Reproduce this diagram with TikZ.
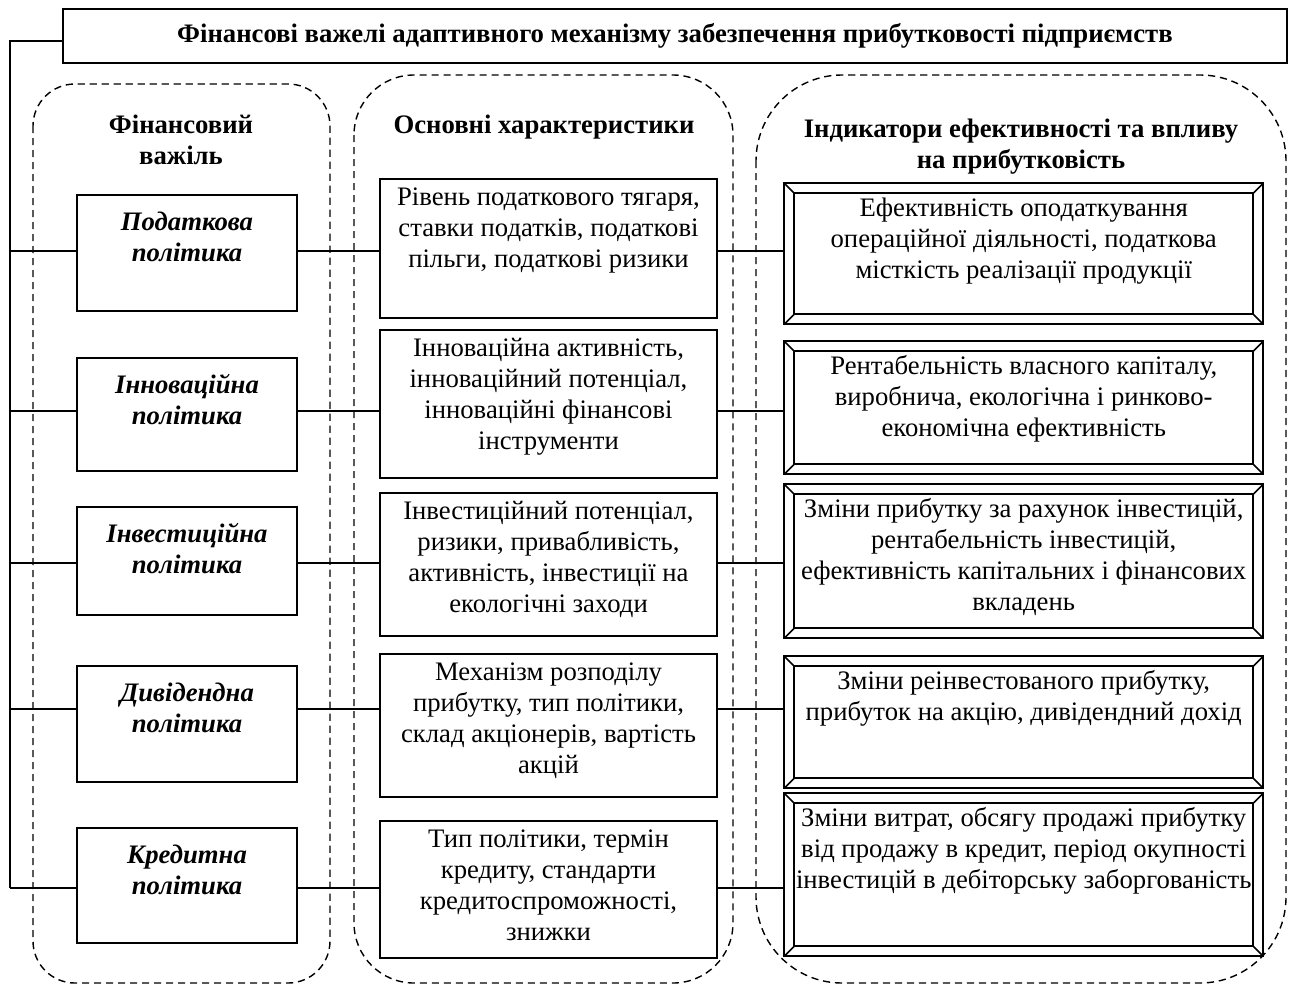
\documentclass[tikz,border=0pt]{standalone}
\usepackage{fontspec}
\setmainfont{Liberation Serif}
\usetikzlibrary{positioning}

% text block pinned to the top of a box: width, height, top gap, text
\newcommand{\cellbox}[4]{\parbox[c][#2][t]{#1}{\centering\vspace*{#3}\strut #4\par}}

\begin{document}
\begin{tikzpicture}[
    x=0.5pt, y=-0.5pt,
    every node/.style={font=\fontsize{13.35}{15.5}\selectfont, inner sep=0pt},
    lever/.style={draw, line width=1pt, anchor=north west, font=\fontsize{13.35}{15.5}\selectfont\bfseries\itshape},
    feature/.style={draw, line width=1pt, anchor=north west},
    bevel/.style={draw, line width=1.2pt, anchor=north west, path picture={
        \draw[line width=0.8pt] ([shift={(5pt,-5pt)}]path picture bounding box.north west) rectangle ([shift={(-5pt,5pt)}]path picture bounding box.south east);
        \foreach \c/\dx/\dy in {north west/5/-5, north east/-5/-5, south west/5/5, south east/-5/5}
            \draw[line width=0.8pt] (path picture bounding box.\c) -- ++(\dx pt,\dy pt);
    }},
    heading/.style={align=center, font=\fontsize{13.35}{15.5}\selectfont\bfseries},
    zone/.style={draw, dash pattern=on 3.6pt off 2.4pt, line width=0.7pt},
    link/.style={draw, line width=0.75pt}
]
\useasboundingbox (0,0) rectangle (1289,985);

% Dashed column frames
\draw[zone, rounded corners=21pt] (33,84) rectangle (330,983);
\draw[zone, rounded corners=30pt] (354,75) rectangle (733,983);
\draw[zone, rounded corners=43pt] (756,75) rectangle (1286,983);

% Title
\node[feature, anchor=center, minimum width=612pt, minimum height=27pt, font=\fontsize{13.35}{15.5}\selectfont\bfseries] (title) at (675,36) {Фінансові важелі адаптивного механізму забезпечення прибутковості підприємств};

% Column headings
\node[heading] (headlev) at (181,140) {Фінансовий\\важіль};
\node[heading] (headchar) at (544,127) {Основні характеристики};
\node[heading] (headind) at (1021,147) {Індикатори ефективності та впливу\\на прибутковість};

% Financial levers
\node[lever] (lev1) at (76,194) {\cellbox{110pt}{58pt}{7pt}{Податкова\\політика}};
\node[lever] (lev2) at (76,357) {\cellbox{110pt}{56.5pt}{7pt}{Інноваційна\\політика}};
\node[lever] (lev3) at (76,506) {\cellbox{110pt}{54pt}{7pt}{Інвестиційна\\політика}};
\node[lever] (lev4) at (76,665) {\cellbox{110pt}{58pt}{7pt}{Дивідендна\\політика}};
\node[lever] (lev5) at (76,827) {\cellbox{110pt}{57.5pt}{7pt}{Кредитна\\політика}};

% Main characteristics
\node[feature] (char1) at (379,178) {\cellbox{168.5pt}{69.5pt}{2.4pt}{Рівень податкового тягаря,\\ставки податків, податкові\\пільги, податкові ризики}};
\node[feature] (char2) at (379,329) {\cellbox{168.5pt}{74pt}{2.4pt}{Інноваційна активність,\\інноваційний потенціал,\\інноваційні фінансові\\інструменти}};
\node[feature] (char3) at (379,492) {\cellbox{168.5pt}{71.5pt}{2.4pt}{Інвестиційний потенціал,\\ризики, привабливість,\\активність, інвестиції на\\екологічні заходи}};
\node[feature] (char4) at (379,653) {\cellbox{168.5pt}{71.5pt}{2.4pt}{Механізм розподілу\\прибутку, тип політики,\\склад акціонерів, вартість\\акцій}};
\node[feature] (char5) at (379,820) {\cellbox{168.5pt}{68.5pt}{2.4pt}{Тип політики, термін\\кредиту, стандарти\\кредитоспроможності,\\знижки}};

% Indicators of efficiency
\node[bevel] (ind1) at (783,182) {\cellbox{239.5pt}{70.5pt}{6pt}{Ефективність оподаткування\\операційної діяльності, податкова\\місткість реалізації продукції}};
\node[bevel] (ind2) at (783,340) {\cellbox{239.5pt}{66.5pt}{6pt}{Рентабельність власного капіталу,\\виробнича, екологічна і ринково-\\економічна ефективність}};
\node[bevel] (ind3) at (783,483) {\cellbox{239.5pt}{77pt}{6pt}{Зміни прибутку за рахунок інвестицій,\\рентабельність інвестицій,\\ефективність капітальних і фінансових\\вкладень}};
\node[bevel] (ind4) at (783,655) {\cellbox{239.5pt}{66pt}{6pt}{Зміни реінвестованого прибутку,\\прибуток на акцію, дивідендний дохід}};
\node[bevel] (ind5) at (783,792) {\cellbox{239.5pt}{81.5pt}{6pt}{Зміни витрат, обсягу продажі прибутку\\від продажу в кредит, період окупності\\інвестицій в дебіторську заборгованість}};

% Connections
\coordinate (spine) at (10,41);
\foreach \i/\y in {1/251, 2/411, 3/563, 4/709, 5/888}
    \coordinate (row\i) at (0,\y);
\draw[link] (title.west |- spine) -- (spine) -- (spine |- row5);
\foreach \i in {1,...,5} {
    \draw[link] (spine |- row\i) -- (lev\i.west |- row\i);
    \draw[link] (lev\i.east |- row\i) -- (char\i.west |- row\i);
    \draw[link] (char\i.east |- row\i) -- (ind\i.west |- row\i);
}

\end{tikzpicture}
\end{document}
